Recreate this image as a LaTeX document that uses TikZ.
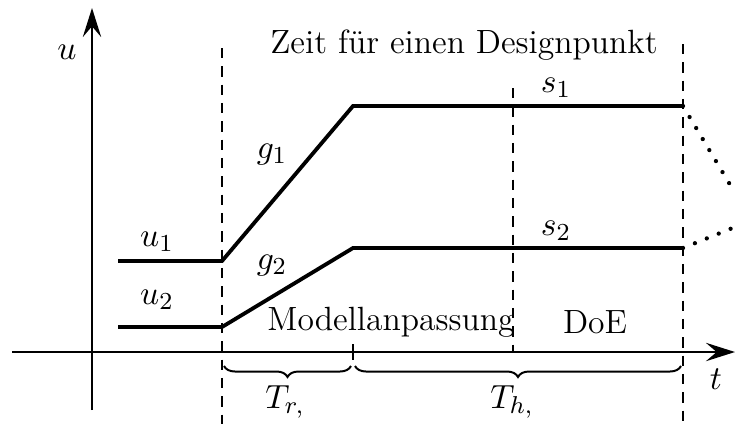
\documentclass[tikz,border=0pt]{standalone}
\usetikzlibrary{arrows.meta,decorations.pathreplacing}
\begin{document}
\begin{tikzpicture}[
  x=0.0115cm, y=-0.0115cm,
  >={Stealth[length=9.5pt,width=6pt,inset=3.5pt]},
  every node/.style={font=\fontsize{11}{13}\selectfont},
  axis/.style={->, line width=0.75pt},
  signal/.style={line width=1.25pt},
  phase/.style={dash pattern=on 3.4pt off 2.6pt, line width=0.55pt},
  extrap/.style={line width=1.4pt, line cap=round, dash pattern=on 0pt off 4.2pt},
  span/.style={decorate, decoration={brace, mirror, amplitude=3.6pt}, line width=0.65pt},
  lbl/.style={inner sep=1pt}
]
\useasboundingbox (0,0) rectangle (735,424);

% axes
\coordinate (ubot) at (92,410);
\coordinate (utop) at (92,8);
\coordinate (tleft) at (12,352);
\coordinate (tright) at (735,352);
\draw[axis] (ubot) -- (utop);
\draw[axis] (tleft) -- (tright);
\node[lbl] (ulab) at (67,52) {$u$};
\node[lbl] (tlab) at (716,379) {$t$};

% phase borders
\coordinate (ra) at (222,48);   \coordinate (rb) at (222,424);
\coordinate (ea) at (683,44);   \coordinate (eb) at (683,424);
\coordinate (da) at (513,88);   \coordinate (db) at (513,352);
\coordinate (ha) at (353,344);  \coordinate (hb) at (353,360);
\draw[phase] (ra) -- (rb);
\draw[phase] (ea) -- (eb);
\draw[phase] (da) -- (db);
\draw[line width=0.75pt] (ha) -- (hb);

% input signals
\coordinate (a1) at (118,261); \coordinate (b1) at (222,261);
\coordinate (c1) at (353,106); \coordinate (d1) at (683,106);
\coordinate (x1) at (735,193);
\coordinate (a2) at (118,327); \coordinate (b2) at (222,327);
\coordinate (c2) at (353,248); \coordinate (d2) at (683,248);
\coordinate (x2) at (735,227);
\draw[signal] (a1) -- (b1) -- (c1) -- (d1);
\draw[signal] (a2) -- (b2) -- (c2) -- (d2);
\draw[extrap] (d1) -- (x1);
\draw[extrap] (d2) -- (x2);

% labels
\node[lbl] (title) at (464,45) {Zeit f\"ur einen Designpunkt};
\node[lbl] (u1) at (157,242) {$u_1$};
\node[lbl] (u2) at (157,300) {$u_2$};
\node[lbl] (g1) at (272,155) {$g_1$};
\node[lbl] (g2) at (272,266) {$g_2$};
\node[lbl] (s1) at (556,88) {$s_1$};
\node[lbl] (s2) at (556,231) {$s_2$};
\node[lbl] (fit) at (391,322) {Modellanpassung};
\node[lbl] (doe) at (595,322) {DoE};

% durations
\coordinate (br1) at (224,366); \coordinate (br2) at (351,366);
\coordinate (bh1) at (355,366); \coordinate (bh2) at (681,366);
\draw[span] (br1) -- (br2);
\draw[span] (bh1) -- (bh2);
\node[lbl] (Tr) at (285,402) {$T_{r,}$};
\node[lbl] (Th) at (512,402) {$T_{h,}$};
\end{tikzpicture}
\end{document}
